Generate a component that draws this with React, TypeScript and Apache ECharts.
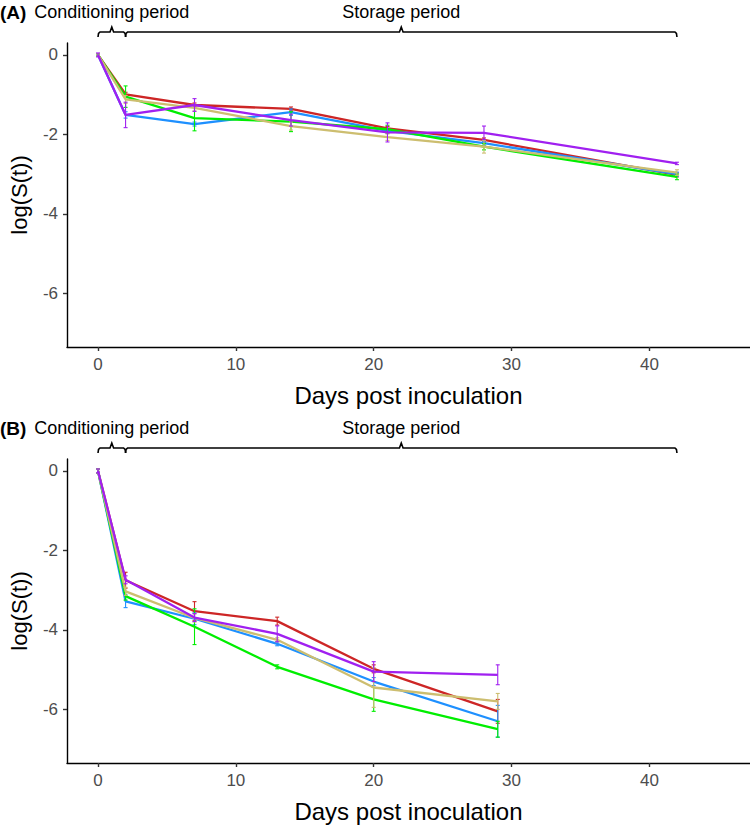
import React, { useEffect, useRef } from "react";
import * as echarts from "echarts";

// ---- data ----
const xTicks = [0, 10, 20, 30, 40];
const yTicks = [0, -2, -4, -6];

const seriesNames = ["red", "blue", "green", "tan", "purple"];
const seriesColors = ["#CD2626", "#1E90FF", "#00EE00", "#CDBE70", "#A020F0"];

// Panel A
const daysA = [0, 2, 7, 14, 21, 28, 42];
const redA = [0, -0.99, -1.26, -1.36, -1.85, -2.14, -3.02];
const blueA = [0, -1.51, -1.74, -1.44, -1.91, -2.22, -3.0];
const greenA = [0, -1.05, -1.59, -1.68, -1.87, -2.31, -3.07];
const tanA = [0, -1.12, -1.33, -1.79, -2.07, -2.31, -2.96];
const purpleA = [0, -1.51, -1.26, -1.64, -1.95, -1.96, -2.73];
const redAErr = [0.03, 0.05, 0.05, 0.05, 0.05, 0.05, 0.05];
const blueAErr = [0.03, 0.08, 0.05, 0.08, 0.05, 0.05, 0.05];
const greenAErr = [0.03, 0.27, 0.32, 0.25, 0.1, 0.08, 0.07];
const tanAErr = [0.03, 0.1, 0.08, 0.1, 0.08, 0.16, 0.07];
const purpleAErr = [0.05, 0.32, 0.16, 0.15, 0.24, 0.17, 0.03];

// Panel B
const daysB = [0, 2, 7, 13, 20, 29];
const redB = [0, -2.75, -3.53, -3.78, -4.98, -6.05];
const blueB = [0, -3.28, -3.72, -4.35, -5.3, -6.3];
const greenB = [0, -3.15, -3.92, -4.93, -5.75, -6.5];
const tanB = [0, -3.03, -3.7, -4.25, -5.45, -5.8];
const purpleB = [0, -2.74, -3.69, -4.1, -5.05, -5.13];
const redBErr = [0.05, 0.2, 0.24, 0.1, 0.1, 0.3];
const blueBErr = [0.05, 0.16, 0.15, 0.05, 0.1, 0.4];
const greenBErr = [0.05, 0.1, 0.45, 0.05, 0.3, 0.2];
const tanBErr = [0.05, 0.1, 0.1, 0.05, 0.5, 0.2];
const purpleBErr = [0.05, 0.1, 0.1, 0.2, 0.25, 0.25];

// periods (days)
const conditioningPeriod = [0, 2];
const storagePeriod = [2, 42];

const FONT = "'Liberation Sans', Arial, Helvetica, sans-serif";

const panelsValues = [
  { days: daysA, vals: [redA, blueA, greenA, tanA, purpleA], errs: [redAErr, blueAErr, greenAErr, tanAErr, purpleAErr], label: "(A)" },
  { days: daysB, vals: [redB, blueB, greenB, tanB, purpleB], errs: [redBErr, blueBErr, greenBErr, tanBErr, purpleBErr], label: "(B)" },
];

export default function App() {
  const ref = useRef<HTMLDivElement>(null);
  useEffect(() => {
    if (!ref.current) return;
    const chart = echarts.init(ref.current, null, { renderer: "svg" });

    const gridTops = [43, 459];
    const gridH = 304;

    const xAxes = gridTops.map((_, i) => ({
      type: "value",
      gridIndex: i,
      min: -2.25,
      max: 47.3,
      splitLine: { show: false },
      axisLine: { show: true, onZero: false, lineStyle: { color: "#000", width: 1.4 } },
      axisTick: { show: true, customValues: xTicks, length: 4, lineStyle: { color: "#333", width: 1.4 } },
      axisLabel: { customValues: xTicks, margin: 9, fontSize: 17, color: "#4d4d4d", fontFamily: FONT },
      name: "Days post inoculation",
      nameLocation: "middle",
      nameGap: 36,
      nameTextStyle: { fontSize: 24, color: "#000", fontFamily: FONT },
    }));
    const yAxes = gridTops.map((_, i) => ({
      type: "value",
      gridIndex: i,
      min: -7.35,
      max: 0.3,
      splitLine: { show: false },
      axisLine: { show: true, onZero: false, lineStyle: { color: "#000", width: 1.4 } },
      axisTick: { show: true, customValues: yTicks, length: 4, lineStyle: { color: "#333", width: 1.4 } },
      axisLabel: { customValues: yTicks, margin: 9, fontSize: 17, color: "#4d4d4d", fontFamily: FONT },
      name: "log(S(t))",
      nameLocation: "middle",
      nameGap: 37,
      nameTextStyle: { fontSize: 22, color: "#000", fontFamily: FONT },
    }));

    const series: any[] = [];
    panelsValues.forEach((p, pi) => {
      p.vals.forEach((vals, si) => {
        const color = seriesColors[si];
        series.push({
          type: "custom",
          name: seriesNames[si] + "-err-" + pi,
          xAxisIndex: pi,
          yAxisIndex: pi,
          z: 2 + si,
          data: p.days.map((d, k) => [d, vals[k] - p.errs[si][k], vals[k] + p.errs[si][k]]),
          renderItem: (params: any, api: any) => {
            const lo = api.coord([api.value(0), api.value(1)]);
            const hi = api.coord([api.value(0), api.value(2)]);
            const w = 2;
            const st = { stroke: color, lineWidth: 1.1 };
            return {
              type: "group",
              children: [
                { type: "line", shape: { x1: lo[0], y1: lo[1], x2: hi[0], y2: hi[1] }, style: st },
                { type: "line", shape: { x1: lo[0] - w, y1: lo[1], x2: lo[0] + w, y2: lo[1] }, style: st },
                { type: "line", shape: { x1: hi[0] - w, y1: hi[1], x2: hi[0] + w, y2: hi[1] }, style: st },
              ],
            };
          },
        });
        series.push({
          type: "line",
          name: seriesNames[si] + "-" + pi,
          xAxisIndex: pi,
          yAxisIndex: pi,
          z: 2 + si,
          data: p.days.map((d, k) => [d, vals[k]]),
          showSymbol: false,
          symbol: "none",
          lineStyle: { color, width: 2.3 },
          itemStyle: { color },
        });
      });
    });

    chart.setOption({
      animation: false,
      backgroundColor: "#fff",
      grid: gridTops.map((t) => ({ left: 67, right: 0, top: t, height: gridH })),
      xAxis: xAxes,
      yAxis: yAxes,
      series,
    });

    const graphics: any[] = [];
    gridTops.forEach((t, pi) => {
      const by = t - 11;
      const px = (v: number) => chart.convertToPixel({ xAxisIndex: pi }, v) as number;
      const bracket = (a: number, b: number) => {
        const x1 = px(a);
        const x2 = px(b);
        const xm = (x1 + x2) / 2;
        graphics.push({
          type: "polyline",
          shape: {
            points: [
              [x1, by + 5], [x1 + 0.5, by + 1.5], [x1 + 2, by], [xm - 1.8, by], [xm, by - 5],
              [xm + 1.8, by], [x2 - 2, by], [x2 - 0.5, by + 1.5], [x2, by + 5],
            ],
          },
          style: { stroke: "#000", lineWidth: 1.6, fill: null },
        });
        return xm;
      };
      const cm = bracket(conditioningPeriod[0], conditioningPeriod[1]);
      const sm = bracket(storagePeriod[0], storagePeriod[1]);
      const ty = by - 20;
      graphics.push({
        type: "text",
        x: cm,
        y: ty,
        style: { text: "Conditioning period", fontSize: 18, fontFamily: FONT, fill: "#000", align: "center", verticalAlign: "middle" },
      });
      graphics.push({
        type: "text",
        x: sm,
        y: ty,
        style: { text: "Storage period", fontSize: 18, fontFamily: FONT, fill: "#000", align: "center", verticalAlign: "middle" },
      });
      graphics.push({
        type: "text",
        x: 0,
        y: ty,
        style: { text: panelsValues[pi].label, fontSize: 19, fontWeight: "bold", fontFamily: FONT, fill: "#000", align: "left", verticalAlign: "middle" },
      });
    });
    chart.setOption({ graphic: graphics });

    return () => chart.dispose();
  }, []);

  return (
    <div
      ref={ref}
      style={{ position: "fixed", left: 0, top: 0, width: 750, height: 825, background: "#fff" }}
    />
  );
}
